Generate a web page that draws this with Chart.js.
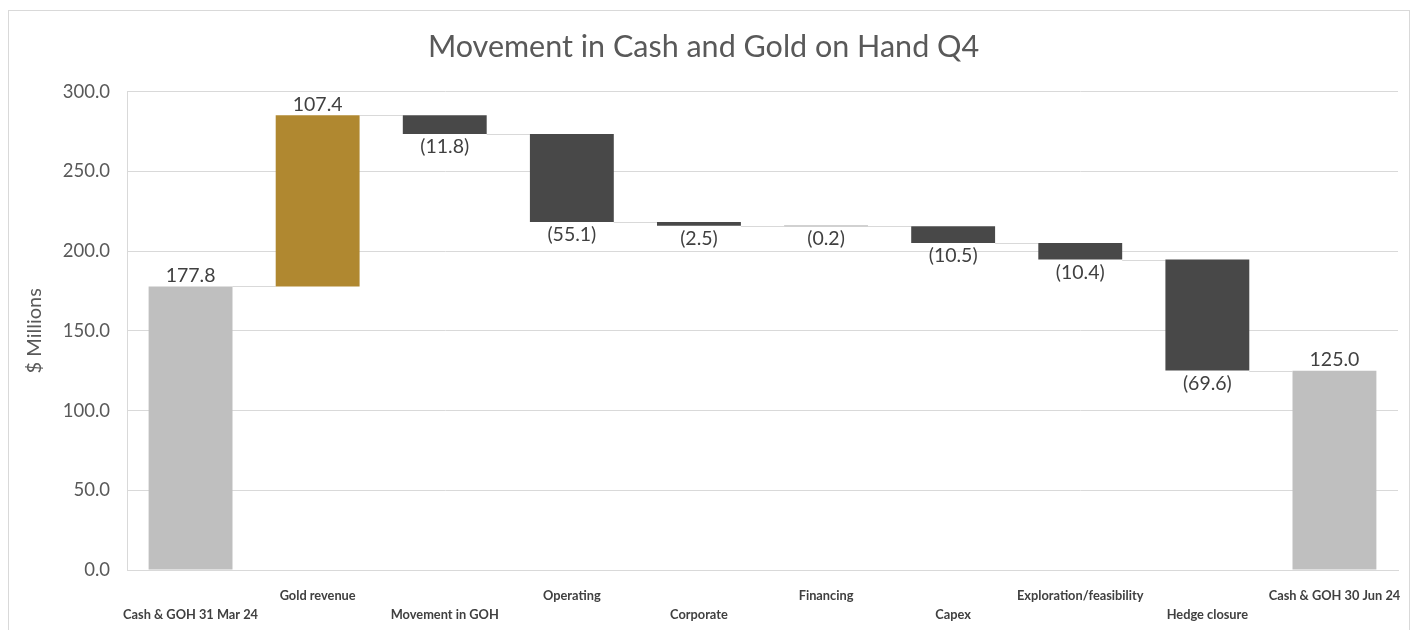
<!DOCTYPE html>
<html>
<head>
<meta charset="utf-8">
<script src="https://cdn.jsdelivr.net/npm/chart.js@4"></script>
<style>
  html, body { margin: 0; padding: 0; background: #fff; overflow: hidden; }
  #wrap { position: absolute; left: 8px; top: 10px; width: 1400px; height: 619px; border: 1px solid #d9d9d9; }
  canvas { display: block; }
</style>
</head>
<body>
<div id="wrap"><canvas id="c" width="1400" height="619"></canvas></div>
<script>
const categories = ["Cash & GOH 31 Mar 24", "Gold revenue", "Movement in GOH", "Operating", "Corporate", "Financing", "Capex", "Exploration/feasibility", "Hedge closure", "Cash & GOH 30 Jun 24"];
const values = [177.8, 107.4, -11.8, -55.1, -2.5, -0.2, -10.5, -10.4, -69.6, 125.0];
const kinds = ["total", "up", "down", "down", "down", "down", "down", "down", "down", "total"];
const yTicks = [0, 50, 100, 150, 200, 250, 300];

const colors = { total: "#BFBFBF", up: "#B08830", down: "#484848" };

// floating ranges
const ranges = [];
let running = 0;
values.forEach((v, i) => {
  if (kinds[i] === "total") { ranges.push([0, v]); running = v; }
  else { ranges.push([running, running + v]); running = running + v; }
});

// staggered two-row labels: odd indices upper row, even indices lower row
const xLabels = categories.map((c, i) => i % 2 === 1 ? [c, ""] : ["", c]);

const FONT = "Lato, 'Open Sans', sans-serif";

const waterfallPlugin = {
  id: "waterfall",
  beforeDatasetsDraw(chart) {
    const ctx = chart.ctx;
    const meta = chart.getDatasetMeta(0);
    const y = chart.scales.y;
    ctx.save();
    ctx.strokeStyle = "#D9D9D9";
    ctx.lineWidth = 1;
    for (let i = 0; i < meta.data.length - 1; i++) {
      const a = meta.data[i], b = meta.data[i + 1];
      const level = ranges[i][1];
      const py = Math.round(y.getPixelForValue(level)) + 0.5;
      ctx.beginPath();
      ctx.moveTo(a.x + a.width / 2, py);
      ctx.lineTo(b.x - b.width / 2, py);
      ctx.stroke();
    }
    ctx.restore();
  },
  afterDatasetsDraw(chart) {
    const ctx = chart.ctx;
    const meta = chart.getDatasetMeta(0);
    const y = chart.scales.y;
    ctx.save();
    ctx.fillStyle = "#404040";
    ctx.font = "19.5px " + FONT;
    ctx.textAlign = "center";
    meta.data.forEach((bar, i) => {
      const v = values[i];
      const hi = Math.max(ranges[i][0], ranges[i][1]);
      const lo = Math.min(ranges[i][0], ranges[i][1]);
      if (v >= 0) {
        ctx.textBaseline = "bottom";
        ctx.fillText(v.toFixed(1), bar.x, y.getPixelForValue(hi) - 1);
      } else {
        ctx.textBaseline = "top";
        ctx.fillText("(" + Math.abs(v).toFixed(1) + ")", bar.x, y.getPixelForValue(lo) + 3);
      }
    });
    ctx.restore();
  }
};

new Chart(document.getElementById("c"), {
  type: "bar",
  data: {
    labels: xLabels,
    datasets: [{
      data: ranges,
      backgroundColor: kinds.map(k => colors[k]),
      borderWidth: 0,
      barPercentage: 0.66,
      categoryPercentage: 1.0
    }]
  },
  plugins: [waterfallPlugin],
  options: {
    responsive: false,
    animation: false,
    layout: { padding: { left: 0, right: 11, top: 0, bottom: 0 } },
    plugins: {
      legend: { display: false },
      tooltip: { enabled: false },
      title: {
        display: true,
        text: "Movement in Cash and Gold on Hand Q4",
        color: "#595959",
        font: { family: FONT, size: 30.5, weight: "normal" },
        padding: { top: 18, bottom: 26 }
      }
    },
    scales: {
      x: {
        grid: { display: false, drawTicks: false },
        border: { display: true, color: "#D9D9D9" },
        ticks: {
          autoSkip: false, maxRotation: 0, minRotation: 0,
          color: "#404040",
          padding: 16,
          font: { family: FONT, size: 12.8, weight: "bold", lineHeight: "19px" }
        },
        afterFit(scale) { scale.height = 60; scale.paddingLeft = 0; scale.paddingRight = 0; }
      },
      y: {
        min: 0, max: 300,
        afterBuildTicks(scale) { scale.ticks = yTicks.map(v => ({ value: v })); },
        grid: { color: "#D9D9D9", drawTicks: false },
        border: { display: true, color: "#D9D9D9" },
        ticks: {
          color: "#595959",
          padding: 17,
          font: { family: FONT, size: 18.5 },
          callback: v => Number(v).toFixed(1)
        },
        title: {
          display: true,
          text: "$ Millions",
          color: "#595959",
          font: { family: FONT, size: 20 },
          padding: { top: 14, bottom: 0 }
        },
        afterFit(scale) { scale.width = 118; }
      }
    }
  }
});
</script>
</body>
</html>
